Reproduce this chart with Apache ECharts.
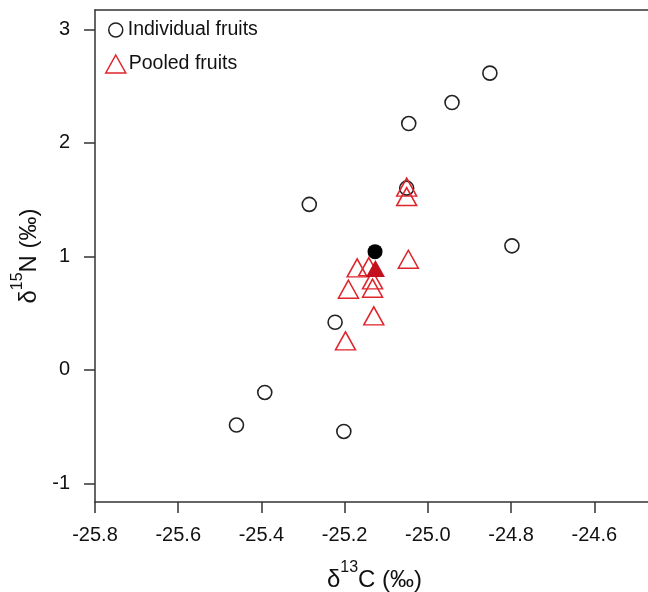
<!DOCTYPE html>
<html>
<head>
<meta charset="utf-8">
<title>d13C vs d15N</title>
<script src="https://cdn.jsdelivr.net/npm/echarts@6/dist/echarts.min.js"></script>
<style>
  html, body { margin: 0; padding: 0; background: #fff; }
  #chart { width: 648px; height: 592px; }
</style>
</head>
<body>
<div id="chart"></div>
<script>
// individual fruits (open circles)
const indivC = [-25.460, -25.392, -25.202, -25.223, -25.285, -25.046, -25.051, -24.942, -24.851, -24.798];
const indivN = [-0.485, -0.198, -0.542, 0.420, 1.458, 2.170, 1.601, 2.355, 2.614, 1.093];

// pooled fruits (open triangles)
const pooledC = [-25.051, -25.051, -25.047, -25.170, -25.142, -25.133, -25.133, -25.191, -25.130, -25.198];
const pooledN = [1.610, 1.527, 0.975, 0.899, 0.910, 0.793, 0.720, 0.711, 0.476, 0.256];

// means (filled)
const indivMean = [-25.127, 1.042];
const pooledMean = [-25.126, 0.893];

const xTicks = [-25.8, -25.6, -25.4, -25.2, -25.0, -24.8, -24.6];
const yTicks = [-1, 0, 1, 2, 3];

const font = 'Liberation Sans, Arial, sans-serif';
const ink = '#333333';
const red = '#e0242b';

const chart = echarts.init(document.getElementById('chart'));

const zip = (a, b) => a.map((v, i) => [v, b[i]]);

const titleRich = {
  t: { fontSize: 24, color: '#111', fontFamily: font, verticalAlign: 'bottom', lineHeight: 32 },
  s: { fontSize: 16, color: '#111', fontFamily: font, verticalAlign: 'top', lineHeight: 32 }
};

// plot is cut at the right edge of the picture, so x max sits at the canvas edge
const xMin = -25.8;
const xMax = -24.471;

chart.setOption({
  animation: false,
  textStyle: { fontFamily: font },
  grid: {
    left: 95,
    top: 10,
    right: 0,
    bottom: 90,
    outerBoundsMode: 'none'
  },
  legend: [{
    data: [{
      name: 'Individual fruits',
      icon: 'circle',
      itemStyle: { color: 'transparent', borderColor: '#222', borderWidth: 1.5 }
    }],
    left: 108,
    top: 20,
    padding: 0,
    itemWidth: 14,
    itemHeight: 14,
    selectedMode: false,
    textStyle: { fontSize: 19.5, color: '#111', fontFamily: font }
  }, {
    data: [{
      name: 'Pooled fruits',
      icon: 'triangle',
      itemStyle: { color: 'transparent', borderColor: red, borderWidth: 1.5 }
    }],
    left: 105,
    top: 54,
    padding: 0,
    itemWidth: 20,
    itemHeight: 18,
    selectedMode: false,
    textStyle: { fontSize: 19.5, color: '#111', fontFamily: font, padding: [0, 0, 0, -2] }
  }],
  xAxis: [{
    type: 'value',
    min: xMin,
    max: xMax,
    name: '{t|δ}{s|13}{t|C (‰)}',
    nameLocation: 'middle',
    nameGap: 58,
    nameTextStyle: { rich: titleRich, padding: [0, 0, 0, 6] },
    splitLine: { show: false },
    axisLine: { onZero: false, lineStyle: { color: ink, width: 1.5 } },
    axisTick: { length: 11, lineStyle: { color: ink, width: 1.5 }, customValues: xTicks },
    axisLabel: {
      customValues: xTicks,
      margin: 23,
      fontSize: 20,
      color: '#111',
      formatter: v => v.toFixed(1)
    }
  }, {
    // top frame line only
    type: 'value',
    position: 'top',
    min: xMin,
    max: xMax,
    splitLine: { show: false },
    axisLine: { onZero: false, lineStyle: { color: ink, width: 1.5 } },
    axisTick: { show: false },
    axisLabel: { show: false }
  }],
  yAxis: {
    type: 'value',
    min: -1.163,
    max: 3.17,
    name: '{t|δ}{s|15}{t|N (‰)}',
    nameLocation: 'middle',
    nameGap: 48,
    nameRotate: 90,
    nameTextStyle: { rich: titleRich },
    splitLine: { show: false },
    axisLine: { onZero: false, lineStyle: { color: ink, width: 1.5 } },
    axisTick: { length: 11, lineStyle: { color: ink, width: 1.5 }, customValues: yTicks },
    axisLabel: {
      customValues: yTicks,
      margin: 25,
      fontSize: 20,
      color: '#111'
    }
  },
  series: [{
    name: 'Individual fruits',
    type: 'scatter',
    symbol: 'circle',
    symbolSize: 14,
    data: zip(indivC, indivN),
    itemStyle: { color: 'transparent', borderColor: '#222', borderWidth: 1.6, opacity: 1 }
  }, {
    name: 'Pooled fruits',
    type: 'scatter',
    symbol: 'triangle',
    symbolSize: [20, 18],
    data: zip(pooledC, pooledN),
    itemStyle: { color: 'transparent', borderColor: red, borderWidth: 1.5, opacity: 1 }
  }, {
    name: 'Individual mean',
    type: 'scatter',
    symbol: 'circle',
    symbolSize: 15,
    data: [indivMean],
    itemStyle: { color: '#000', opacity: 1 }
  }, {
    name: 'Pooled mean',
    type: 'scatter',
    symbol: 'triangle',
    symbolSize: [19, 17],
    data: [pooledMean],
    itemStyle: { color: '#c4101c', opacity: 1 }
  }]
});
</script>
</body>
</html>
